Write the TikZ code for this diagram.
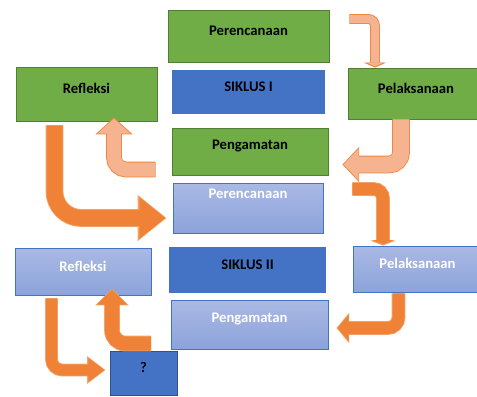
\documentclass[tikz,border=0pt]{standalone}
\usepackage{fontspec}
\setmainfont{Carlito}
\usetikzlibrary{calc, arrows.meta, positioning}
\definecolor{leafgreen}{HTML}{70AD47}
\definecolor{leafedge}{HTML}{507E32}
\definecolor{deepblue}{HTML}{4472C4}
\definecolor{deepedge}{HTML}{2F528F}
\definecolor{paletop}{HTML}{AAB9E4}
\definecolor{palebottom}{HTML}{8CA3DA}
\definecolor{peach}{HTML}{F5B38F}
\definecolor{peachedge}{HTML}{EE8640}
\definecolor{flame}{HTML}{EF8236}
\definecolor{flameedge}{HTML}{F4A46A}
\tikzset{
stage/.style = {rectangle, draw=leafedge, fill=leafgreen, line width=0.7pt, inner sep=0pt},
cyclebox/.style = {rectangle, fill=deepblue, inner sep=0pt},
paleblock/.style = {rectangle, draw=deepblue, top color=paletop, bottom color=palebottom, line width=0.7pt, inner sep=0pt},
askbox/.style = {rectangle, draw=deepedge, fill=deepblue, line width=0.7pt, inner sep=0pt},
tag/.style = {font=\fontsize{11}{13}\selectfont\bfseries, yshift=4pt},
whitetag/.style = {tag, text=white},
blockarrow/.style n args={5}{draw=#1, line width=#3, shorten >=0.9pt,
  -{Triangle[width=0pt #4, length=0pt #5]},
  preaction={draw=#2, line width=#3+1.3pt, shorten >=0pt}}
}
\begin{document}
\begin{tikzpicture}[x=0.75pt, y=-0.75pt]
\useasboundingbox (0,0) rectangle (477,396);

% siklus I
\node (plan1) [stage, minimum width=120.75pt, minimum height=39pt, label={[tag]center:Perencanaan}] at (248.5,36) {};
\node (cyc1) [cyclebox, minimum width=114.75pt, minimum height=33pt, label={[tag]center:SIKLUS I}] at (248.5,92) {};
\node (act1) [stage, minimum width=102pt, minimum height=38.25pt, label={[tag]center:Pelaksanaan}] at (416,93.5) {};
\node (refl1) [stage, minimum width=105.75pt, minimum height=40.5pt, label={[tag]center:Refleksi}] at (86.5,94) {};
\node (obs1) [stage, minimum width=117pt, minimum height=35.25pt, label={[tag]center:Pengamatan}] at (250,151.5) {};

% siklus II
\node (plan2) [paleblock, minimum width=112.5pt, minimum height=37.5pt, label={[whitetag, yshift=7pt]center:Perencanaan}] at (248,208) {};
\node (cyc2) [cyclebox, minimum width=117.75pt, minimum height=34.5pt, label={[tag]center:SIKLUS II}] at (247.5,270) {};
\node (act2) [paleblock, minimum width=96.75pt, minimum height=34.5pt, label={[whitetag]center:Pelaksanaan}] at (417.5,269) {};
\node (obs2) [paleblock, minimum width=117.75pt, minimum height=36.75pt, label={[whitetag]center:Pengamatan}] at (249.5,324.5) {};
\node (refl2) [paleblock, minimum width=102pt, minimum height=35.25pt, label={[whitetag]center:Refleksi}] at (83,271.5) {};
\node (ask) [askbox, minimum width=50.25pt, minimum height=33pt, label={[tag]center:?}] at (143.5,373) {};

% bent arrows
\draw [blockarrow={peach}{peachedge}{6pt}{2.25}{0.5}, rounded corners=5pt] ($(plan1.east)+(20,-17)$) -| ($(act1.north)+(-41,0)$);
\draw [blockarrow={peach}{peachedge}{12pt}{1.94}{0.94}, rounded corners=9pt] ($(act1.south)+(-15,0)$) |- ($(obs1.east)+(14,13)$);
\draw [blockarrow={peach}{peachedge}{10.5pt}{2.29}{1.07}, rounded corners=9pt] ($(obs1.west)+(-16,18)$) -| ($(refl1.south)+(27.5,-4)$);
\draw [blockarrow={flame}{flameedge}{12pt}{2.5}{1.63}, rounded corners=20pt] ($(refl1.south)+(-32,4)$) |- ($(plan2.west)+(-6,10)$);
\draw [blockarrow={flame}{flameedge}{9pt}{1.83}{0.35}, rounded corners=7pt] ($(plan2.east)+(29,-19)$) -| ($(act2.north)+(-34.5,0)$);
\draw [blockarrow={flame}{flameedge}{9pt}{2.17}{0.92}, rounded corners=8pt] ($(act2.south)+(-19,1)$) |- ($(obs2.east)+(8,3.5)$);
\draw [blockarrow={flame}{flameedge}{10.5pt}{2.07}{1.07}, rounded corners=10pt] ($(ask.north)+(7.5,-7)$) -| ($(refl2.south)+(29,-7)$);
\draw [blockarrow={flame}{flameedge}{8.25pt}{2.09}{1.45}, rounded corners=8pt] ($(refl2.south)+(-31.5,3)$) |- ($(ask.west)+(-4,-3)$);

\end{tikzpicture}
\end{document}
